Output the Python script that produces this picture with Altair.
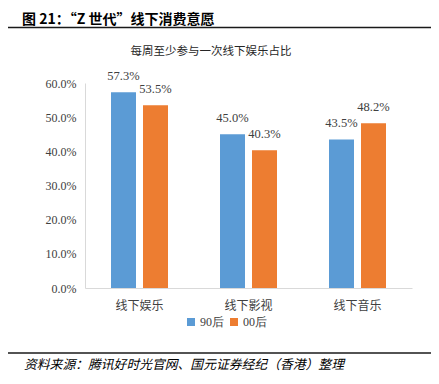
import altair as alt
import pandas as pd

categories = ["线下娱乐", "线下影视", "线下音乐"]
series = ["90后", "00后"]
values_90 = [0.573, 0.450, 0.435]
values_00 = [0.535, 0.403, 0.482]
y_ticks = [0, 0.1, 0.2, 0.3, 0.4, 0.5, 0.6]

header = "图 21：“Z 世代”线下消费意愿"
chart_title = "每周至少参与一次线下娱乐占比"
source = "资料来源：腾讯好时光官网、国元证券经纪（香港）整理"

rows = []
for c, a, b in zip(categories, values_90, values_00):
    rows.append({"cat": c, "series": series[0], "value": a})
    rows.append({"cat": c, "series": series[1], "value": b})
df = pd.DataFrame(rows)

CW, CH = 423, 368
PX0, PX1 = 77, 404
PY0, PY1 = 75, 280
CJK = "Noto Sans CJK SC"
SERIF = "Liberation Serif"

x_enc = alt.X("cat:N", sort=categories, title=None,
              scale=alt.Scale(range=[PX0, PX1], paddingInner=0, paddingOuter=0),
              axis=alt.Axis(labelFont=CJK, labelFontSize=12, labelColor="#404040",
                            labelAngle=0, labelPadding=12, ticks=False,
                            offset=-(CH - PY1),
                            domainColor="#D9D9D9", domainWidth=1))
xoff = alt.XOffset("series:N", sort=series,
                   scale=alt.Scale(paddingInner=0.21875, paddingOuter=0.8125))
color = alt.Color("series:N", sort=series,
                  scale=alt.Scale(domain=series, range=["#5B9BD5", "#ED7D31"]),
                  legend=alt.Legend(title=None, orient="none", direction="horizontal",
                                    legendX=177, legendY=308, symbolType="square",
                                    symbolSize=64, symbolStrokeWidth=0,
                                    labelFont=SERIF, labelFontSize=12,
                                    labelColor="#404040", columnPadding=4,
                                    symbolOffset=0, labelOffset=3))

y_enc = alt.Y("value:Q", title=None,
              scale=alt.Scale(domain=[0, 0.6], nice=False, range=[PY1, PY0]),
              axis=alt.Axis(values=y_ticks, format=".1%", labelFont=SERIF,
                            labelFontSize=12, labelColor="#404040", grid=False,
                            ticks=False, labelPadding=9, labelOverlap=False,
                            offset=-PX0, domainColor="#D9D9D9"))

base = alt.Chart(df)
bars = base.mark_bar().encode(x=x_enc, xOffset=xoff, y=y_enc, color=color)
labels = base.mark_text(dy=-9, baseline="bottom", font=SERIF, fontSize=12.5,
                        color="#404040").encode(
    x=alt.X("cat:N", sort=categories), xOffset=xoff, y="value:Q",
    text=alt.Text("value:Q", format=".1%"))

deco_df = pd.DataFrame({"a": [0]})
deco = alt.Chart(deco_df)
head_text = deco.mark_text(align="left", baseline="alphabetic", font=CJK, fontSize=14,
                           fontWeight="bold", color="#000000").encode(
    x=alt.value(14), y=alt.value(16), text=alt.value(header))
top_rule = deco.mark_rule(stroke="#1a1a1a", strokeWidth=1.5).encode(
    x=alt.value(0), x2=alt.value(CW), y=alt.value(19.5))
title_text = deco.mark_text(align="center", baseline="middle", font=CJK, fontSize=11.5,
                            color="#262626").encode(
    x=alt.value(203), y=alt.value(44), text=alt.value(chart_title))
bot_rule = deco.mark_rule(stroke="#1a1a1a", strokeWidth=1.5).encode(
    x=alt.value(0), x2=alt.value(CW), y=alt.value(345))
src_text = deco.mark_text(align="left", baseline="middle", font=CJK, fontSize=12.8,
                          fontStyle="italic", color="#000000").encode(
    x=alt.value(16), y=alt.value(357), text=alt.value(source))

chart = alt.layer(bars, labels, top_rule, bot_rule, head_text, title_text, src_text).properties(
    width=CW, height=CH,
    autosize=alt.AutoSizeParams(type="none"),
    padding=0,
).configure_view(stroke=None)

chart.save("out.html", embed_options={"renderer": "svg", "actions": False})
